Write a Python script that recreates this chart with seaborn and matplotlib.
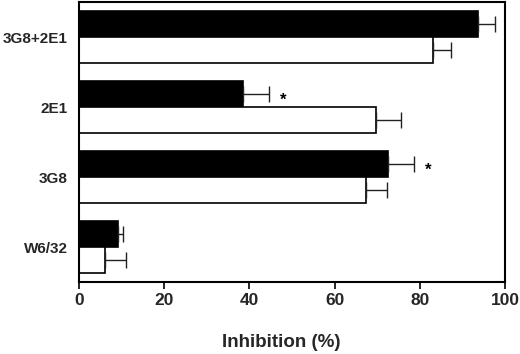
import matplotlib
matplotlib.use("Agg")
import matplotlib.pyplot as plt
import seaborn as sns
import pandas as pd
import numpy as np

categories = ["3G8+2E1", "2E1", "3G8", "W6/32"]
conditions = ["A", "B"]
black_vals = [93.7, 38.6, 72.6, 9.2]
black_err = [4.0, 6.0, 6.0, 1.2]
white_vals = [83.0, 69.7, 67.3, 6.1]
white_err = [4.3, 6.0, 5.0, 5.0]
star_cats = ["2E1", "3G8"]

sns.set_theme(style="white")
plt.rcParams['font.family'] = ['Liberation Sans', 'DejaVu Sans']

df = pd.DataFrame({
    "cat": categories * 2,
    "cond": [conditions[0]] * 4 + [conditions[1]] * 4,
    "val": black_vals + white_vals,
})

fig = plt.figure(figsize=(5.2, 3.54), dpi=100)
ax = fig.add_axes([0.152, 0.203, 0.819, 0.791])
sns.barplot(data=df, y="cat", x="val", hue="cond", order=categories,
            hue_order=conditions, palette=["black", "white"], orient="h",
            width=0.74, edgecolor="black", linewidth=1.2, errorbar=None,
            legend=False, ax=ax)

# error bars (one-sided, right)
errs = {conditions[0]: black_err, conditions[1]: white_err}
vals = {conditions[0]: black_vals, conditions[1]: white_vals}
patches = ax.patches
for h_i, cond in enumerate(conditions):
    for c_i, cat in enumerate(categories):
        p = patches[h_i * len(categories) + c_i]
        yc = p.get_y() + p.get_height() / 2
        v = vals[cond][c_i]
        e = errs[cond][c_i]
        ax.errorbar(v, yc, xerr=[[0], [e]], fmt="none", ecolor="#222222",
                    elinewidth=1.0, capsize=6, capthick=1.0, zorder=3)
        if cond == conditions[0] and cat in star_cats:
            ax.text(v + e + 2.5, yc + 0.08, "*", ha="left", va="center",
                    fontsize=12, fontweight="bold", color="black")

ax.set_xlim(0, 100)
ax.set_ylim(3.5, -0.5)
ax.set_xticks([0, 20, 40, 60, 80, 100])
ax.set_xlabel("Inhibition (%)", fontsize=13.5, fontweight="bold")
ax.xaxis.set_label_coords(0.474, -0.185)
ax.set_ylabel("")
ax.tick_params(axis="x", direction="out", length=5, width=1.2, labelsize=12.5,
               pad=3, bottom=True, color="black")
ax.tick_params(axis="y", length=0, labelsize=11, pad=8)
for lab in ax.get_xticklabels() + ax.get_yticklabels():
    lab.set_fontweight("bold")
for s in ax.spines.values():
    s.set_visible(True)
    s.set_color("black")
    s.set_linewidth(1.5)

fig.savefig("out.png", dpi=100, facecolor="white")
